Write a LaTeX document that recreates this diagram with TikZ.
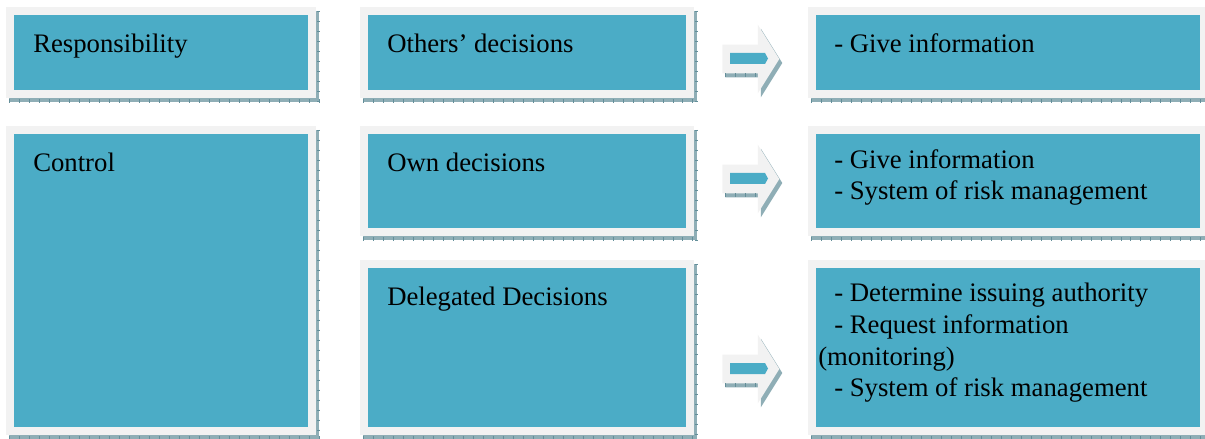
\documentclass[tikz,border=0pt]{standalone}
\usepackage{fontspec}
\setmainfont{Liberation Serif}
\usetikzlibrary{calc, shadows, shapes.arrows}
\definecolor{cellteal}{HTML}{4BACC6}
\definecolor{rimgray}{HTML}{F2F2F2}
\definecolor{shadowc}{HTML}{8FAEB6}
\definecolor{tickc}{HTML}{648F9A}
\newcommand{\pxu}{0.025cm}
\newcommand{\ind}{\hspace*{0.4cm}}
\tikzset{
  hardshadow/.style={drop shadow={shadow xshift=0.075cm, shadow yshift=-0.1cm, opacity=1, fill=shadowc}},
  cell/.style={rectangle, inner sep=0pt, anchor=north west, fill=rimgray, hardshadow,
    path picture={\fill[cellteal] ($(path picture bounding box.north west)+(8,8)$) rectangle ($(path picture bounding box.south east)+(-8,-8)$);}},
  txt/.style={anchor=north west, inner sep=0pt, align=left, font=\fontsize{19}{22.5}\selectfont, execute at begin node=\strut},
  arrowblk/.style={single arrow, anchor=tail, fill=rimgray, hardshadow, minimum height=1.425cm,
    single arrow head extend=0.5cm, single arrow tip angle=116, inner xsep=0pt, inner ysep=0.35cm,
    text height=0pt, text depth=0pt},
  tickline/.style={tickc, dash pattern=on 0.7pt off 6.4pt}
}

\begin{document}
\begin{tikzpicture}[x=\pxu, y=-\pxu]
  \useasboundingbox (0,0) rectangle (1205,439);
  % boxes, one row after the other
  \node[cell, minimum width=310*\pxu, minimum height=91*\pxu] (resp) at (6,7) {};
  \node[cell, minimum width=334*\pxu, minimum height=91*\pxu] (others) at (360,7) {};
  \node[cell, minimum width=400*\pxu, minimum height=91*\pxu] (info) at (808,7) {};
  \node[cell, minimum width=310*\pxu, minimum height=309*\pxu] (ctrl) at (6,126) {};
  \node[cell, minimum width=334*\pxu, minimum height=110*\pxu] (own) at (360,126) {};
  \node[cell, minimum width=400*\pxu, minimum height=110*\pxu] (infosys) at (808,126) {};
  \node[cell, minimum width=334*\pxu, minimum height=175*\pxu] (deleg) at (360,260) {};
  \node[cell, minimum width=400*\pxu, minimum height=175*\pxu] (deter) at (808,260) {};
  \foreach \b in {resp,others,info,ctrl,own,infosys,deleg,deter}{
    \draw[tickline, line width=0.1cm] ($(\b.south west)+(3,2)$) -- ($(\b.south east)+(3,2)$);
    \draw[tickline, line width=0.075cm] ($(\b.north east)+(1.5,4)$) -- ($(\b.south east)+(1.5,4)$);}
  % arrows
  \node[arrowblk] (arr1) at (722,59) {};
  \node[arrowblk] (arr2) at (722,179) {};
  \node[arrowblk] (arr3) at (722,369) {};
  \foreach \a in {arr1,arr2,arr3}{
    \draw[tickline, line width=0.1cm] ($(\a.tail)+(3,16)$) -- ($(\a.tail)+(35,16)$);
    \fill[cellteal] ($(\a.tail)+(8,-6)$) -- ++(35,0) -- ++(3,5.5) -- ++(-3,5.5) -- ++(-35,0) -- cycle;}
  % texts
  \node[txt] (resptx) at ($(resp.north west)+(27,23)$) {Responsibility};
  \node[txt] (otherstx) at ($(others.north west)+(27,23)$) {Others’ decisions};
  \node[txt] (infotx) at ($(info.north west)+(10,23)$) {\ind- Give information};
  \node[txt] (ctrltx) at ($(ctrl.north west)+(27,23)$) {Control};
  \node[txt] (owntx) at ($(own.north west)+(27,23)$) {Own decisions};
  \node[txt] (infosystx) at ($(infosys.north west)+(10,23)$) {\ind- Give information\\ \ind- System of risk management};
  \node[txt] (delegtx) at ($(deleg.north west)+(27,23)$) {Delegated Decisions};
  \node[txt] (detertx) at ($(deter.north west)+(10,23)$) {\ind- Determine issuing authority\\ \ind- Request information\\ (monitoring)\\ \ind- System of risk management};
\end{tikzpicture}
\end{document}
